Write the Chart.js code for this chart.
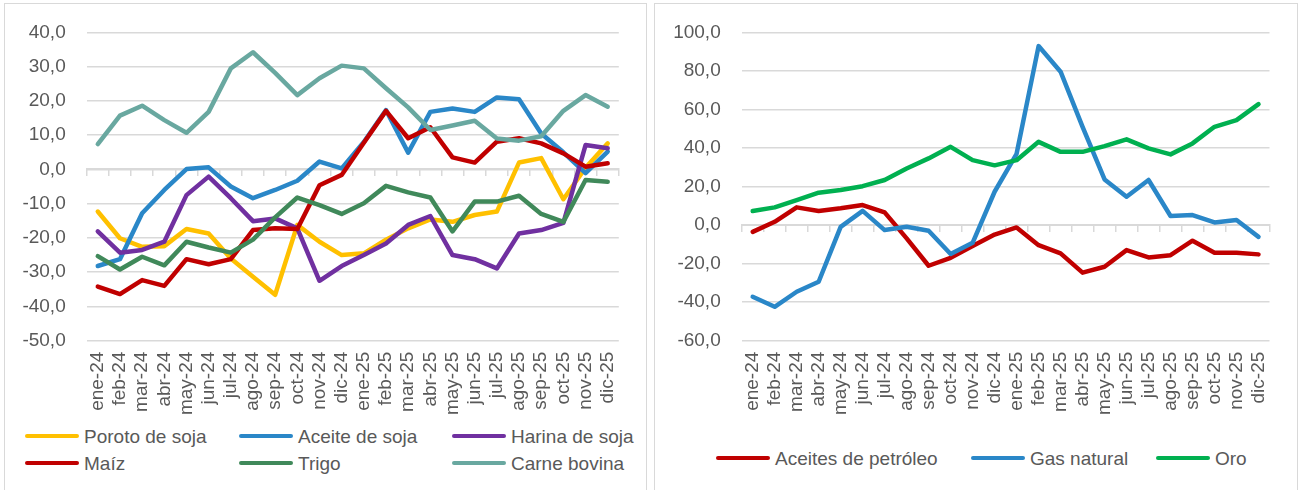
<!DOCTYPE html>
<html>
<head>
<meta charset="utf-8">
<script src="https://cdn.jsdelivr.net/npm/chart.js@4.4.1/dist/chart.umd.min.js"></script>
<style>
  html, body { margin:0; padding:0; background:#fff; }
  body { width:1298px; height:490px; position:relative; overflow:hidden; font-family:'Liberation Sans', Arial, sans-serif; }
  .panel { position:absolute; top:3px; height:500px; border:1px solid #d9d9d9; box-sizing:border-box; }
  canvas { position:absolute; top:0; }
  .lg { position:absolute; display:flex; align-items:center; font-size:19px; color:#595959; line-height:1; white-space:nowrap; }
  .lg .sw { width:54px; height:4px; border-radius:2px; margin-right:5px; }
</style>
</head>
<body>
<div class="panel" style="left:4px;width:643px;"></div>
<div class="panel" style="left:654px;width:644px;"></div>
<canvas id="c1" width="650" height="425" style="left:0px;width:650px;height:425px"></canvas>
<canvas id="c2" width="648" height="425" style="left:650px;width:648px;height:425px"></canvas>
<div id="legend1"></div>
<div id="legend2"></div>
<script>
// ---- data ----
const months = ['ene-24','feb-24','mar-24','abr-24','may-24','jun-24','jul-24','ago-24','sep-24','oct-24','nov-24','dic-24',
                'ene-25','feb-25','mar-25','abr-25','may-25','jun-25','jul-25','ago-25','sep-25','oct-25','nov-25','dic-25'];

const porotoSoja  = [-12.3,-20.1,-22.6,-22.4,-17.4,-18.7,-26.0,-31.3,-36.6,-16.2,-21.1,-25.0,-24.5,-20.5,-17.2,-14.6,-15.3,-13.3,-12.3,2.0,3.3,-8.7,0.5,7.6];
const aceiteSoja  = [-28.2,-26.2,-12.8,-6.0,0.1,0.6,-5.0,-8.4,-6.0,-3.3,2.3,0.3,8.0,17.3,4.9,16.8,17.8,16.8,21.0,20.5,10.5,5.0,-1.1,5.2];
const harinaSoja  = [-18.1,-24.3,-23.5,-21.1,-7.5,-2.1,-8.4,-15.1,-14.3,-17.2,-32.5,-28.2,-25.0,-21.6,-16.2,-13.6,-25.0,-26.2,-28.9,-18.7,-17.7,-15.6,7.1,6.2];
const maiz        = [-34.2,-36.4,-32.3,-34.0,-26.2,-27.7,-26.2,-17.7,-17.2,-17.4,-4.6,-1.6,7.8,17.1,9.1,12.3,3.5,2.0,8.1,9.1,7.6,4.7,0.8,1.8];
const trigo       = [-25.3,-29.2,-25.5,-28.0,-21.1,-22.8,-24.3,-20.5,-14.0,-8.2,-10.4,-13.0,-9.9,-4.8,-6.7,-8.2,-18.1,-9.4,-9.4,-7.7,-13.0,-15.3,-3.1,-3.6];
const carneBovina = [7.4,15.7,18.6,14.4,10.7,16.8,29.5,34.2,28.2,21.7,26.6,30.3,29.5,23.7,18.1,11.5,12.8,14.2,9.0,8.4,9.7,17.1,21.7,18.3];

const aceitesPetroleo = [-3.5,1.7,9.2,7.3,8.7,10.4,6.6,-6.9,-21.1,-17.0,-10.9,-4.9,-1.2,-10.4,-14.7,-24.7,-21.6,-13.0,-16.8,-15.6,-8.1,-14.4,-14.4,-15.2];
const gasNatural      = [-37.2,-42.4,-34.6,-29.4,-0.9,7.4,-2.6,-0.9,-2.9,-15.0,-9.2,17.3,37.0,92.9,79.6,51.0,23.7,14.7,23.4,4.7,5.2,1.4,2.6,-6.1];
const oro             = [7.3,9.2,13.0,16.8,18.2,20.2,23.4,29.4,34.6,40.6,33.7,31.0,33.7,43.2,38.0,38.0,41.0,44.5,39.8,36.7,42.4,51.0,54.5,62.8];

const leftSeries = [
  {label:'Poroto de soja', data:porotoSoja,  color:'#FFC000'},
  {label:'Aceite de soja', data:aceiteSoja,  color:'#2A87C8'},
  {label:'Harina de soja', data:harinaSoja,  color:'#7030A0'},
  {label:'Maíz',           data:maiz,        color:'#C00000'},
  {label:'Trigo',          data:trigo,       color:'#40895A'},
  {label:'Carne bovina',   data:carneBovina, color:'#69A8A0'}
];
const rightSeries = [
  {label:'Aceites de petróleo', data:aceitesPetroleo, color:'#C00000'},
  {label:'Gas natural',         data:gasNatural,      color:'#2A87C8'},
  {label:'Oro',                 data:oro,             color:'#00B050'}
];
const leftTicks  = {min:-50, max:40,  step:10};
const rightTicks = {min:-60, max:100, step:20};

// ---- styling ----
const FONT = {family:"'Liberation Sans', Arial, sans-serif", size:19};
const TXT = '#595959';
const GRID = '#d9d9d9';

function makeChart(id, series, tk, yWidth, padRight) {
  const n = series.length;
  return new Chart(document.getElementById(id), {
    type:'line',
    data:{
      labels: months,
      datasets: series.map((s,i)=>({
        label:s.label, data:s.data, borderColor:s.color, backgroundColor:s.color,
        borderWidth:4.5, pointRadius:0, pointHoverRadius:0, tension:0,
        borderJoinStyle:'round', borderCapStyle:'round', fill:false, order:n-i
      }))
    },
    options:{
      responsive:false, animation:false, devicePixelRatio:1,
      layout:{padding:{left:0, top:32.3, right:padRight, bottom:0}},
      plugins:{legend:{display:false}, tooltip:{enabled:false}},
      scales:{
        x:{
          type:'category', offset:true,
          grid:{display:false, drawTicks:false},
          border:{display:false},
          ticks:{autoSkip:false, maxRotation:90, minRotation:90, padding:11, font:FONT, color:TXT},
          afterFit:s=>{ s.height = 425 - 340.7; }
        },
        x0:{
          type:'category', offset:true, position:{y:0},
          grid:{display:true, offset:true, drawOnChartArea:false, drawTicks:true, tickLength:6, color:GRID, lineWidth:1.5},
          border:{display:true, color:GRID, width:2},
          ticks:{display:false}
        },
        y:{
          min:tk.min, max:tk.max,
          grid:{color:GRID, lineWidth:1.5, drawTicks:false},
          border:{display:false},
          ticks:{stepSize:tk.step, padding:21, font:FONT, color:TXT,
                 callback:v=>v.toFixed(1).replace('.',',')},
          afterFit:s=>{ s.width = yWidth; }
        }
      }
    }
  });
}

makeChart('c1', leftSeries, leftTicks, 86.7, 650-618.8);
makeChart('c2', rightSeries, rightTicks, 741.7-650, 648-619.5);

// ---- HTML legends ----
function addLegend(containerId, items) {
  const c = document.getElementById(containerId);
  items.forEach(it=>{
    const d = document.createElement('div');
    d.className = 'lg';
    d.style.left = it.x + 'px';
    d.style.top = (it.y - 10) + 'px';
    d.style.height = '20px';
    const sw = document.createElement('span');
    sw.className = 'sw'; sw.style.background = it.s.color;
    const t = document.createElement('span');
    t.textContent = it.s.label;
    d.appendChild(sw); d.appendChild(t);
    c.appendChild(d);
  });
}
const lcols = [25, 239, 452], lrows = [436, 463];
addLegend('legend1', leftSeries.map((s,i)=>({s, x:lcols[i%3], y:lrows[Math.floor(i/3)]})));
const rcols = [716, 971, 1156];
addLegend('legend2', rightSeries.map((s,i)=>({s, x:rcols[i], y:458})));
</script>
</body>
</html>
